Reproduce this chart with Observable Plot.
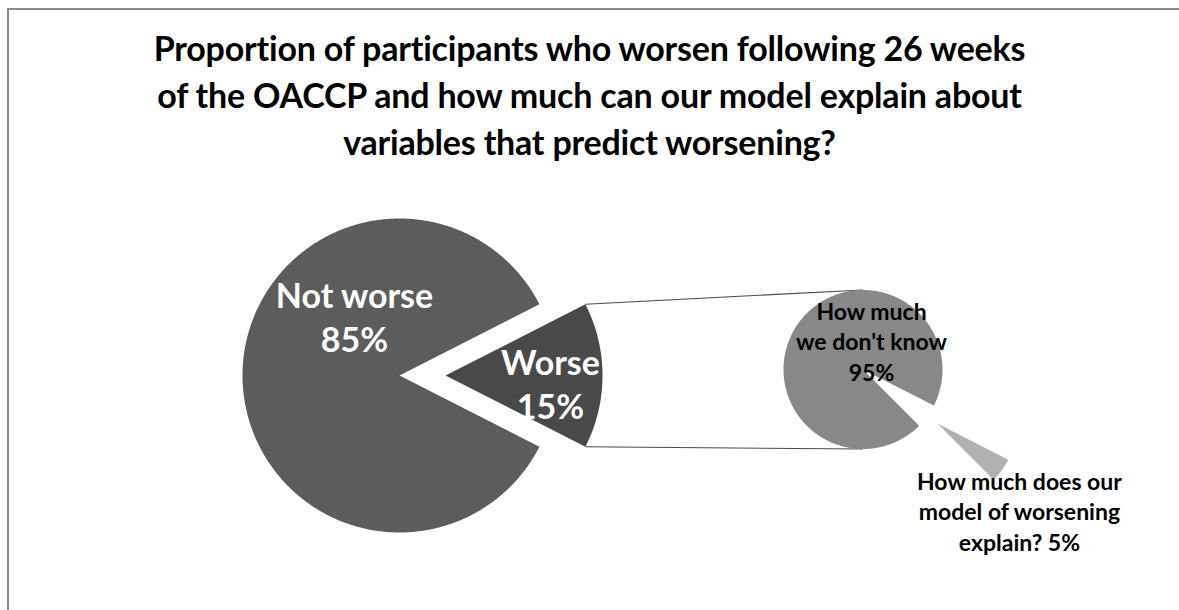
<!DOCTYPE html>
<html>
<head>
<meta charset="utf-8">
<script src="https://cdn.jsdelivr.net/npm/d3@7"></script>
<script src="https://cdn.jsdelivr.net/npm/@observablehq/plot@0.6"></script>
<style>
  html, body { margin: 0; padding: 0; background: #fff; overflow: hidden; }
  .rule { position: absolute; background: #8a8a8a; z-index: 2; }
  #rule-left { left: 7px; top: 8px; width: 2px; height: 602px; }
  #rule-top { left: 7px; top: 8px; width: 1172px; height: 2px; }
  #title { position: absolute; left: 0; top: 24px; width: 1179px; text-align: center;
           font-family: Lato, "Open Sans", sans-serif; font-weight: bold; font-size: 34px;
           letter-spacing: -0.2px; line-height: 47px; color: #000; }
  #chart { position: absolute; left: 0; top: 166px; }
</style>
</head>
<body>
<div id="title"></div>
<div id="chart"></div>
<div class="rule" id="rule-left"></div>
<div class="rule" id="rule-top"></div>
<script>
// Title lines
const titleLines = [
  "Proportion of participants who worsen following 26 weeks",
  "of the OACCP and how much can our model explain about",
  "variables that predict worsening?"
];

// Primary pie: outcome after 26 weeks (%)
const outcomeNames = ["Not worse", "Worse"];
const outcomeShares = [85, 15];

// Secondary pie: breakdown of the "Worse" group (%)
const explainNames = ["How much\nwe don't know", "How much does our\nmodel of worsening\nexplain?"];
const explainShares = [95, 5];

// ---- layout (SVG pixel space) ----
const W = 1179, H = 444;
const total = d3.sum(outcomeShares);
const mainPie = {
  cx: 399, cy: 209, r: 157,
  // worse slice centred on the right-hand side
  start: Math.PI / 2 + Math.PI * outcomeShares[1] / total,
  explode: [0, 46],
  colors: ["#5c5c5c", "#494949"],
  labelOffset: [[-45, -60], [105, 7]],
  labelSep: ["\n", "\n"]
};
const subPie = {
  cx: 862.5, cy: 203, r: 79.5,
  start: Math.PI * 3 / 4,
  explode: [0, 92],
  colors: ["#888888", "#b1b1b1"],
  labelOffset: [[8.5, -29], [82, 87]],
  labelSep: ["\n", " "]
};

function buildPie(names, values, cfg) {
  const arcs = d3.pie().sort(null).startAngle(cfg.start).endAngle(cfg.start + 2 * Math.PI)(values);
  return arcs.map((a, i) => {
    const mid = (a.startAngle + a.endAngle) / 2;
    const off = cfg.explode[i];
    const ax = cfg.cx + off * Math.sin(mid);
    const ay = cfg.cy - off * Math.cos(mid);
    const n = Math.max(2, Math.ceil((a.endAngle - a.startAngle) / (Math.PI / 360)));
    const pts = [{x: ax, y: ay}];
    for (let k = 0; k <= n; ++k) {
      const t = a.startAngle + (a.endAngle - a.startAngle) * k / n;
      pts.push({x: ax + cfg.r * Math.sin(t), y: ay - cfg.r * Math.cos(t)});
    }
    pts.push({x: ax, y: ay});
    return {
      name: names[i], value: values[i], fill: cfg.colors[i],
      apex: [ax, ay], startPt: pts[1], endPt: pts[pts.length - 2],
      points: pts.map(p => ({...p, key: names[i], fill: cfg.colors[i]})),
      label: {
        x: ax + cfg.labelOffset[i][0], y: ay + cfg.labelOffset[i][1],
        text: names[i] + cfg.labelSep[i] + values[i] + "%"
      }
    };
  });
}

const left = buildPie(outcomeNames, outcomeShares, mainPie);
const right = buildPie(explainNames, explainShares, subPie);
const worse = left[1];

// series lines from the exploded slice to the secondary pie
const connectors = [
  {x1: worse.startPt.x, y1: worse.startPt.y, x2: subPie.cx, y2: subPie.cy - subPie.r},
  {x1: worse.endPt.x, y1: worse.endPt.y, x2: subPie.cx, y2: subPie.cy + subPie.r}
];

document.getElementById("title").innerHTML = titleLines.join("<br>");

const chart = Plot.plot({
  width: W, height: H, margin: 0,
  x: {domain: [0, W], axis: null},
  y: {domain: [0, H], reverse: true, axis: null},
  color: {type: "identity"},
  style: {background: "transparent", fontFamily: "Lato, 'Open Sans', sans-serif"},
  marks: [
    Plot.link(connectors, {x1: "x1", y1: "y1", x2: "x2", y2: "y2", stroke: "#4a4a4a", strokeWidth: 1.1}),
    Plot.line([...left, ...right].flatMap(s => s.points), {x: "x", y: "y", z: "key", fill: "fill", stroke: "none"}),
    Plot.text(left.map(s => s.label), {x: "x", y: "y", text: "text", fill: "white",
      fontSize: 34, fontWeight: "bold", lineHeight: 1.3}),
    Plot.text(right.map(s => s.label), {x: "x", y: "y", text: "text", fill: "black",
      fontSize: 23, fontWeight: "bold", lineHeight: 1.32})
  ]
});
document.getElementById("chart").appendChild(chart);
</script>
</body>
</html>
